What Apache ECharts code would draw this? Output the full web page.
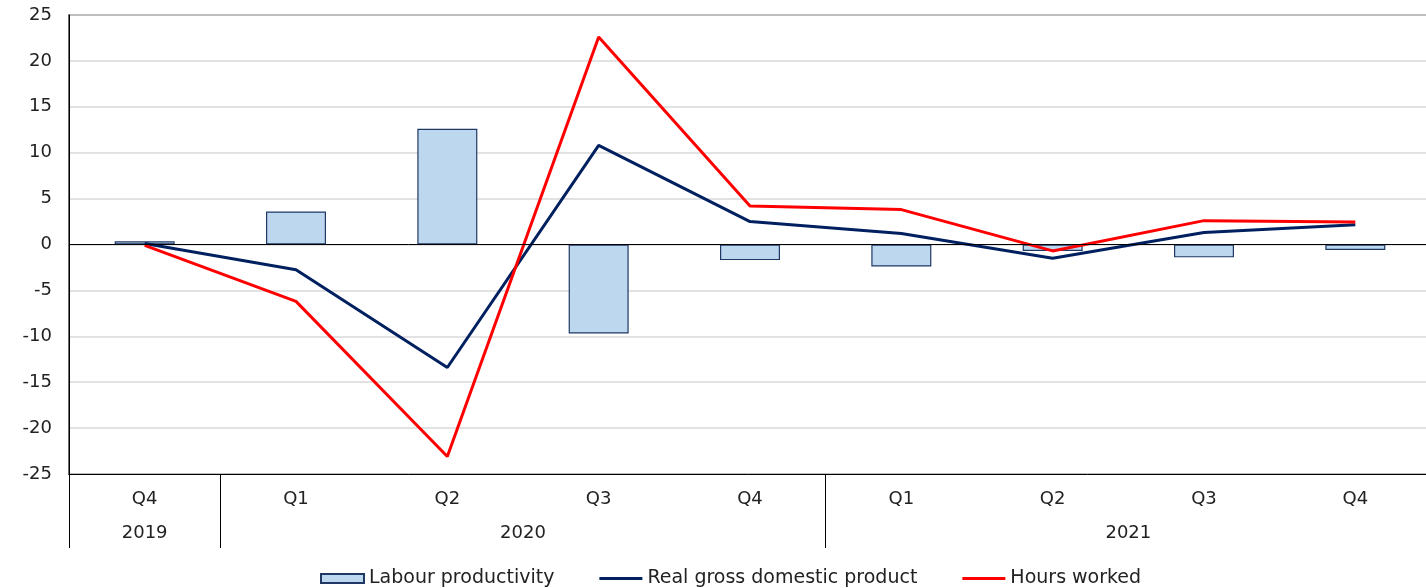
<!DOCTYPE html>
<html lang="en">
<head>
	<meta charset="UTF-8">
	<title>Labour productivity</title>
	<style>
       html, body { margin: 0; padding: 0; background: #fff; }
       #chart_box { width: 1426px; height: 588px; }
	</style>
	<script type="text/javascript" src="https://cdn.jsdelivr.net/npm/echarts@6/dist/echarts.min.js"></script>
</head>
<body>
	<div id="chart_box"></div>
	<script type="text/javascript">
      // data
      var quarters = ['Q4', 'Q1', 'Q2', 'Q3', 'Q4', 'Q1', 'Q2', 'Q3', 'Q4'];
      var quarterYears = ['2019', '2020', '2020', '2020', '2020', '2021', '2021', '2021', '2021'];
      var labourProductivity = [0.35, 3.6, 12.6, -9.7, -1.7, -2.4, -0.7, -1.4, -0.6];
      var realGdp = [0.1, -2.75, -13.4, 10.8, 2.5, 1.2, -1.5, 1.3, 2.15];
      var hoursWorked = [-0.1, -6.2, -23.1, 22.6, 4.2, 3.8, -0.7, 2.6, 2.45];
      var yTicks = [-25, -20, -15, -10, -5, 0, 5, 10, 15, 20, 25];

      // year groups: boundaries and label positions on the category scale
      var yearNames = [];
      var yearBounds = [];
      var yearMids = [];
      var start = 0;
      for (var i = 1; i <= quarterYears.length; i++) {
          if (i === quarterYears.length || quarterYears[i] !== quarterYears[i - 1]) {
              yearNames.push(quarterYears[i - 1]);
              yearBounds.push(start);
              yearMids.push((start + i) / 2);
              start = i;
          }
      }

      var font = 'DejaVu Sans';
      var fs = 18;
      var lineIcon = 'path://M0,0 L43,0 L43,3 L0,3 Z';
      var chart = echarts.init(document.getElementById('chart_box'));
      var option = {
          animation: false,
          textStyle: { fontFamily: font },
          grid: {
              left: 69, width: 1362, top: 15, bottom: 114,
              outerBoundsMode: 'none',
              containLabel: false,
              show: true, borderColor: '#404040', borderWidth: 1.5
          },
          legend: {
              left: 315,
              top: 564,
              itemWidth: 43,
              itemHeight: 9,
              itemGap: 45,
              textStyle: { fontFamily: font, fontSize: 19, color: '#222' },
              data: [
                  { name: 'Labour productivity', icon: 'rect' },
                  { name: 'Real gross domestic product', icon: lineIcon },
                  { name: 'Hours worked', icon: lineIcon }
              ]
          },
          xAxis: [
              {
                  type: 'category',
                  data: quarters,
                  position: 'bottom',
                  axisLine: { onZero: false, lineStyle: { color: '#000', width: 1 } },
                  axisTick: { show: false },
                  axisLabel: { interval: 0, margin: 16, fontSize: fs, color: '#222', fontFamily: font },
                  splitLine: { show: false }
              },
              {
                  type: 'value',
                  min: 0,
                  max: quarters.length,
                  position: 'bottom',
                  axisLine: { show: false, onZero: false },
                  splitLine: { show: false },
                  axisTick: {
                      show: true,
                      customValues: yearBounds,
                      length: 74,
                      lineStyle: { color: '#000', width: 1 }
                  },
                  axisLabel: {
                      customValues: yearMids,
                      margin: 50,
                      fontSize: fs,
                      color: '#222',
                      fontFamily: font,
                      formatter: function (v) {
                          return yearNames[yearMids.indexOf(v)];
                      }
                  }
              }
          ],
          yAxis: {
              type: 'value',
              min: yTicks[0],
              max: yTicks[yTicks.length - 1],
              interval: 5,
              axisLine: { show: true, lineStyle: { color: '#000', width: 1 } },
              axisTick: { show: false },
              axisLabel: { margin: 17, fontSize: fs, color: '#222', fontFamily: font },
              splitLine: { lineStyle: { color: '#d9d9d9', width: 1.5 } }
          },
          series: [
              {
                  name: 'Labour productivity',
                  type: 'bar',
                  barWidth: 60,
                  data: labourProductivity,
                  itemStyle: { color: '#bdd7ee', borderColor: '#1f3864', borderWidth: 1.2 },
                  markLine: {
                      silent: true,
                      symbol: 'none',
                      label: { show: false },
                      lineStyle: { color: '#000', width: 1, type: 'solid' },
                      data: [{ yAxis: 0 }]
                  }
              },
              {
                  name: 'Real gross domestic product',
                  type: 'line',
                  symbol: 'none',
                  data: realGdp,
                  lineStyle: { color: '#002060', width: 3 },
                  itemStyle: { color: '#002060' }
              },
              {
                  name: 'Hours worked',
                  type: 'line',
                  symbol: 'none',
                  data: hoursWorked,
                  lineStyle: { color: '#ff0000', width: 3 },
                  itemStyle: { color: '#ff0000' }
              }
          ]
      };
      chart.setOption(option);
	</script>
</body>
</html>
